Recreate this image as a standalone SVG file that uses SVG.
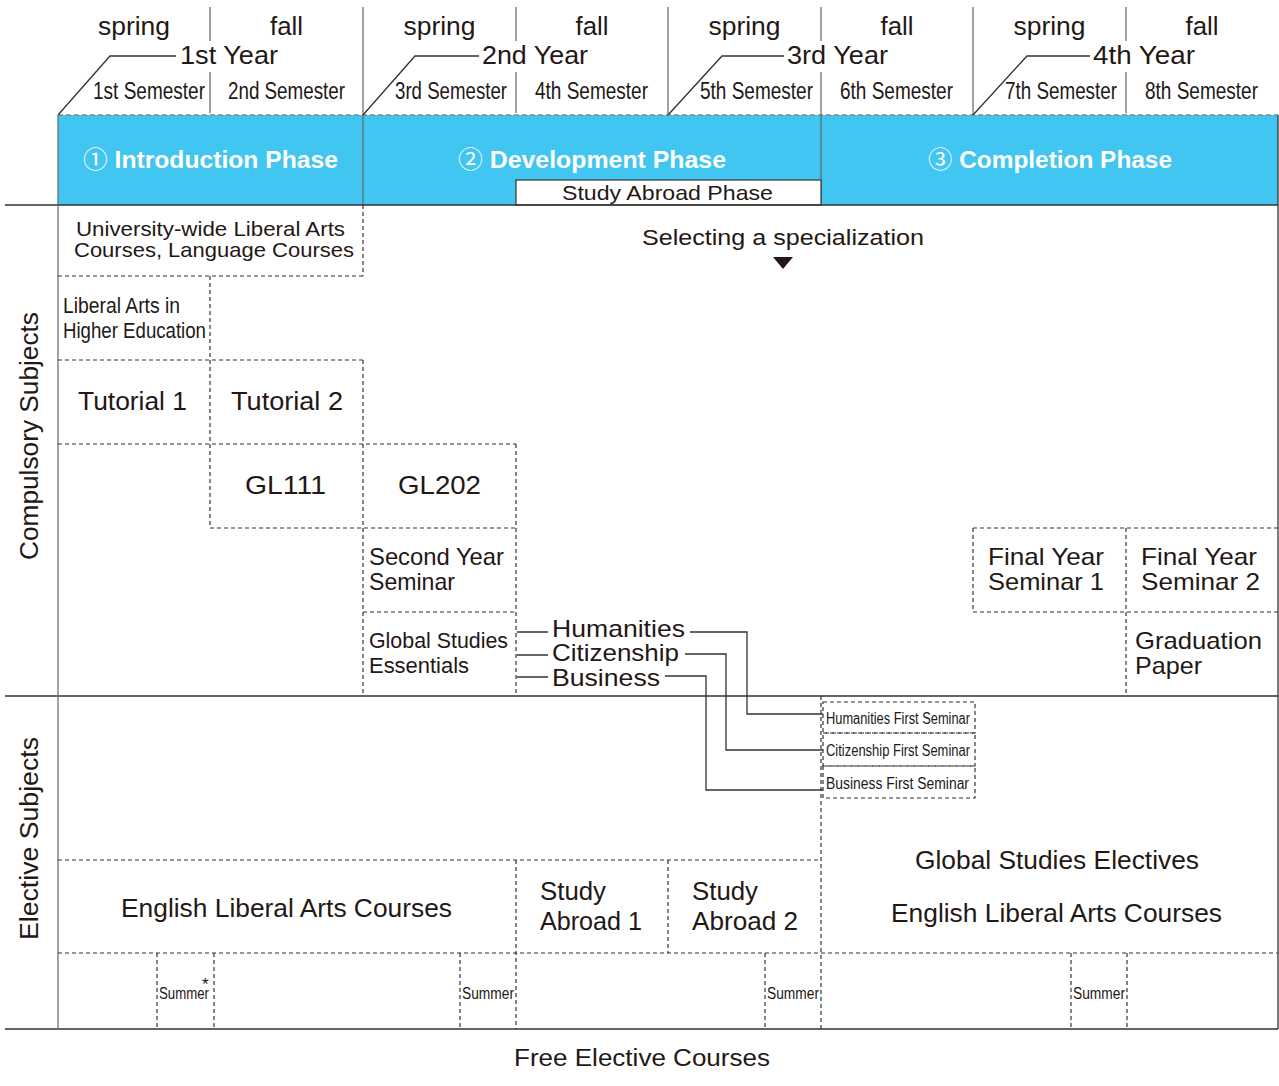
<svg xmlns="http://www.w3.org/2000/svg" width="1279" height="1086" viewBox="0 0 1279 1086">
<style>
text{font-family:"Liberation Sans","DejaVu Sans","Noto Sans CJK JP",sans-serif;fill:#231815;}
.d{stroke:#333;stroke-width:1.2;stroke-dasharray:4 3;fill:none;}
.dg{stroke:#888;stroke-width:1.5;stroke-dasharray:5 3;fill:none;}
.s{stroke:#333;stroke-width:1.3;fill:none;}
.sg{stroke:#666;stroke-width:1.2;fill:none;}
.h{font-size:25px;}
.sem{font-size:23px;}
.ph{font-size:24px;font-weight:bold;fill:#fff;}
.num{font-family:"Noto Sans CJK JP","DejaVu Sans",sans-serif;font-weight:normal;fill:#fff;}
.m{font-size:25px;}
.m2{font-size:24px;}
.n{font-size:21px;}
.c{font-size:22px;}
.sm{font-size:16px;}
</style>

<g id="header">
<rect x="58" y="115" width="1220" height="90" fill="#41C5F1"/>
<line class="dg" x1="58" y1="115" x2="1278" y2="115"/>
<g class="sg">
<path d="M210,7V41M210,72V113"/>
<path d="M363,7V205"/>
<path d="M516,7V41M516,72V113"/>
<path d="M668,7V115"/>
<path d="M821,7V41M821,72V205"/>
<path d="M973,7V115"/>
<path d="M1126,7V41M1126,72V113"/>
</g>
<g class="s" stroke-width="1">
<path d="M58,115L110,56H176"/>
<path d="M363,115L415,56H479"/>
<path d="M668,115L722,56H784"/>
<path d="M973,115L1027,56H1090"/>
</g>
<g class="h" text-anchor="middle">
<text x="134" y="35" textLength="72" lengthAdjust="spacingAndGlyphs">spring</text><text x="286.5" y="35" textLength="33" lengthAdjust="spacingAndGlyphs">fall</text>
<text x="439.5" y="35" textLength="72" lengthAdjust="spacingAndGlyphs">spring</text><text x="592" y="35" textLength="33" lengthAdjust="spacingAndGlyphs">fall</text>
<text x="744.5" y="35" textLength="72" lengthAdjust="spacingAndGlyphs">spring</text><text x="897" y="35" textLength="33" lengthAdjust="spacingAndGlyphs">fall</text>
<text x="1049.5" y="35" textLength="72" lengthAdjust="spacingAndGlyphs">spring</text><text x="1202" y="35" textLength="33" lengthAdjust="spacingAndGlyphs">fall</text>
</g>
<g class="h">
<text x="180" y="64" textLength="98" lengthAdjust="spacingAndGlyphs">1st Year</text>
<text x="482" y="64" textLength="106" lengthAdjust="spacingAndGlyphs">2nd Year</text>
<text x="787" y="64" textLength="101" lengthAdjust="spacingAndGlyphs">3rd Year</text>
<text x="1093" y="64" textLength="102" lengthAdjust="spacingAndGlyphs">4th Year</text>
</g>
<g class="sem">
<text x="93" y="99" textLength="112" lengthAdjust="spacingAndGlyphs">1st Semester</text>
<text x="228" y="99" textLength="117" lengthAdjust="spacingAndGlyphs">2nd Semester</text>
<text x="395" y="99" textLength="112" lengthAdjust="spacingAndGlyphs">3rd Semester</text>
<text x="535" y="99" textLength="113" lengthAdjust="spacingAndGlyphs">4th Semester</text>
<text x="700" y="99" textLength="113" lengthAdjust="spacingAndGlyphs">5th Semester</text>
<text x="840" y="99" textLength="113" lengthAdjust="spacingAndGlyphs">6th Semester</text>
<text x="1005" y="99" textLength="112" lengthAdjust="spacingAndGlyphs">7th Semester</text>
<text x="1145" y="99" textLength="113" lengthAdjust="spacingAndGlyphs">8th Semester</text>
</g>
</g>

<g id="phase-intro"><text class="ph" x="83" y="168" textLength="255" lengthAdjust="spacingAndGlyphs"><tspan class="num">①</tspan> Introduction Phase</text></g>
<g id="phase-dev"><text class="ph" x="458" y="168" textLength="268" lengthAdjust="spacingAndGlyphs"><tspan class="num">②</tspan> Development Phase</text></g>
<g id="phase-comp"><text class="ph" x="928" y="168" textLength="244" lengthAdjust="spacingAndGlyphs"><tspan class="num">③</tspan> Completion Phase</text></g>
<g id="phase-abroad"><rect x="516" y="180" width="305" height="25" fill="#fff" stroke="#333" stroke-width="1.2"/><text x="562" y="200" font-size="21" textLength="211" lengthAdjust="spacingAndGlyphs">Study Abroad Phase</text></g>

<g id="grid">
<g class="s">
<path d="M5,205H1278M5,696H1278M5,1029H1278"/>
<path d="M1278,115V1029"/>
</g>
<path class="sg" d="M58,115V1029" stroke-width="1.5"/>
<g class="d">
<path d="M58,276H363M58,360H363M58,444H516M210,528H516M973,528H1278M363,612H516M973,612H1278M58,860H821M58,953H1278"/>
<path d="M363,205V276M363,360V696M210,276V528M516,444V696M516,860V1029M668,860V953M821,696V1029M973,528V612M1126,528V696"/>
<path d="M157,953V1029M214,953V1029M460,953V1029M765,953V1029M1071,953V1029M1127,953V1029"/>
</g>
</g>

<g id="labels">
<text class="m" transform="translate(38,436) rotate(-90)" text-anchor="middle" textLength="248" lengthAdjust="spacingAndGlyphs">Compulsory Subjects</text>
<text class="m" transform="translate(38,838.5) rotate(-90)" text-anchor="middle" textLength="203" lengthAdjust="spacingAndGlyphs">Elective Subjects</text>
</g>

<g id="univ-wide"><text class="n"><tspan x="76" y="236" textLength="269" lengthAdjust="spacingAndGlyphs">University-wide Liberal Arts</tspan><tspan x="74" y="257" textLength="280" lengthAdjust="spacingAndGlyphs">Courses, Language Courses</tspan></text></g>
<g id="selecting"><text x="642" y="245" font-size="22" textLength="282" lengthAdjust="spacingAndGlyphs">Selecting a specialization</text><path d="M773,257H793L783,269Z" fill="#231815"/></g>
<g id="liberal-arts-he"><text class="c"><tspan x="63" y="313" textLength="117" lengthAdjust="spacingAndGlyphs">Liberal Arts in</tspan><tspan x="63" y="338" textLength="143" lengthAdjust="spacingAndGlyphs">Higher Education</tspan></text></g>
<g id="tutorial1"><text class="m" x="78" y="410" textLength="109" lengthAdjust="spacingAndGlyphs">Tutorial 1</text></g>
<g id="tutorial2"><text class="m" x="231" y="410" textLength="112" lengthAdjust="spacingAndGlyphs">Tutorial 2</text></g>
<g id="gl111"><text class="m" x="245" y="494" textLength="81" lengthAdjust="spacingAndGlyphs">GL111</text></g>
<g id="gl202"><text class="m" x="398" y="494" textLength="83" lengthAdjust="spacingAndGlyphs">GL202</text></g>
<g id="second-year-seminar"><text class="m2"><tspan x="369" y="565" textLength="135" lengthAdjust="spacingAndGlyphs">Second Year</tspan><tspan x="369" y="590" textLength="86" lengthAdjust="spacingAndGlyphs">Seminar</tspan></text></g>
<g id="final-year-1"><text class="m2"><tspan x="988" y="565" textLength="116" lengthAdjust="spacingAndGlyphs">Final Year</tspan><tspan x="988" y="590" textLength="116" lengthAdjust="spacingAndGlyphs">Seminar 1</tspan></text></g>
<g id="final-year-2"><text class="m2"><tspan x="1141" y="565" textLength="116" lengthAdjust="spacingAndGlyphs">Final Year</tspan><tspan x="1141" y="590" textLength="119" lengthAdjust="spacingAndGlyphs">Seminar 2</tspan></text></g>
<g id="global-essentials"><text class="c"><tspan x="369" y="648" textLength="139" lengthAdjust="spacingAndGlyphs">Global Studies</tspan><tspan x="369" y="673" textLength="100" lengthAdjust="spacingAndGlyphs">Essentials</tspan></text></g>
<g id="graduation"><text class="m2"><tspan x="1135" y="649" textLength="127" lengthAdjust="spacingAndGlyphs">Graduation</tspan><tspan x="1135" y="674" textLength="67" lengthAdjust="spacingAndGlyphs">Paper</tspan></text></g>
<g id="humanities"><text class="m2" x="552" y="637" textLength="133" lengthAdjust="spacingAndGlyphs">Humanities</text></g>
<g id="citizenship"><text class="m2" x="552" y="661" textLength="127" lengthAdjust="spacingAndGlyphs">Citizenship</text></g>
<g id="business"><text class="m2" x="552" y="686" textLength="108" lengthAdjust="spacingAndGlyphs">Business</text></g>

<g id="hum-seminar"><rect class="d" x="823" y="702" width="152" height="31"/><text class="sm" x="826" y="724" textLength="144" lengthAdjust="spacingAndGlyphs">Humanities First Seminar</text></g>
<g id="cit-seminar"><rect class="d" x="823" y="733" width="152" height="33"/><text class="sm" x="826" y="756" textLength="144" lengthAdjust="spacingAndGlyphs">Citizenship First Seminar</text></g>
<g id="bus-seminar"><rect class="d" x="823" y="766" width="152" height="32"/><text class="sm" x="826" y="789" textLength="143" lengthAdjust="spacingAndGlyphs">Business First Seminar</text></g>

<g id="connectors" class="s" stroke-width="1.1">
<path d="M517,632H548M517,655H548M517,677H548"/>
<path d="M690,632H747V714H823"/>
<path d="M685,654H726V750H823"/>
<path d="M665,676H706V790H823"/>
</g>

<g id="electives-right"><text class="m"><tspan x="915" y="869" textLength="284" lengthAdjust="spacingAndGlyphs">Global Studies Electives</tspan><tspan x="891" y="922" textLength="331" lengthAdjust="spacingAndGlyphs">English Liberal Arts Courses</tspan></text></g>
<g id="english-la"><text class="m" x="121" y="917" textLength="331" lengthAdjust="spacingAndGlyphs">English Liberal Arts Courses</text></g>
<g id="study-abroad-1"><text class="m"><tspan x="540" y="900" textLength="66" lengthAdjust="spacingAndGlyphs">Study</tspan><tspan x="540" y="930" textLength="102" lengthAdjust="spacingAndGlyphs">Abroad 1</tspan></text></g>
<g id="study-abroad-2"><text class="m"><tspan x="692" y="900" textLength="66" lengthAdjust="spacingAndGlyphs">Study</tspan><tspan x="692" y="930" textLength="106" lengthAdjust="spacingAndGlyphs">Abroad 2</tspan></text></g>

<g id="summer1"><text class="sm" x="159" y="999" textLength="50" lengthAdjust="spacingAndGlyphs">Summer</text><text x="202" y="990" font-size="17">*</text></g>
<g id="summer2"><text class="sm" x="462" y="999" textLength="52" lengthAdjust="spacingAndGlyphs">Summer</text></g>
<g id="summer3"><text class="sm" x="767" y="999" textLength="52" lengthAdjust="spacingAndGlyphs">Summer</text></g>
<g id="summer4"><text class="sm" x="1073" y="999" textLength="52" lengthAdjust="spacingAndGlyphs">Summer</text></g>

<g id="free-elective"><text x="514" y="1066" font-size="23" textLength="256" lengthAdjust="spacingAndGlyphs">Free Elective Courses</text></g>
</svg>
